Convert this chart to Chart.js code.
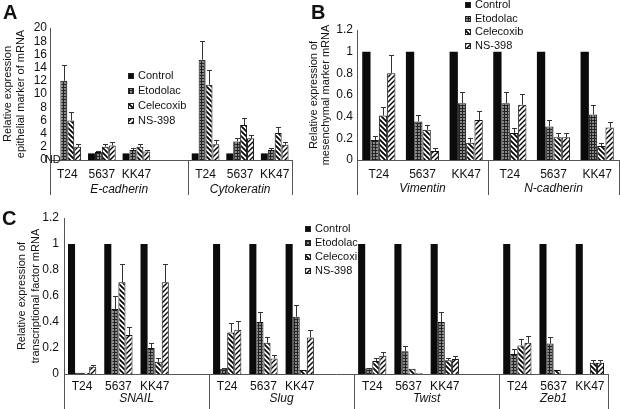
<!DOCTYPE html>
<html>
<head>
<meta charset="utf-8">
<script src="https://cdn.jsdelivr.net/npm/chart.js@4.4.1/dist/chart.umd.min.js"></script>
<style>
  body { margin: 0; background: #fff; }
  #wrap { position: relative; width: 620px; height: 409px; overflow: hidden; }
  canvas { position: absolute; }
  .tag { position: absolute; font: bold 20px "Liberation Sans", Arial, sans-serif; color: #111; }
</style>
</head>
<body>
<div id="wrap">
  <canvas id="chartA" width="300" height="205" style="left:0px;top:0px"></canvas>
  <canvas id="chartB" width="320" height="205" style="left:300px;top:0px"></canvas>
  <canvas id="chartC" width="620" height="204" style="left:0px;top:205px"></canvas>
  <div class="tag" style="left:3px;top:1px">A</div>
  <div class="tag" style="left:311px;top:1px">B</div>
  <div class="tag" style="left:2px;top:207px">C</div>
</div>
<script>
// DATA
const seriesNames = ['Control', 'Etodolac', 'Celecoxib', 'NS-398'];

// A - epithelial markers
const labelsA = ['T24', '5637', 'KK47', '', 'T24', '5637', 'KK47'];
const groupNamesA = ['E-cadherin', 'Cytokeratin'];
const groupSizesA = [4, 3];
const controlA   = [null, 1, 1, null, 1, 1, 1];   // T24 control = ND
const etodolacA  = [12, 1.2, 1.5, null, 15.2, 2.8, 1.5];
const celecoxibA = [6, 2, 2, null, 11.4, 5.3, 4.1];
const ns398A     = [2, 2.2, 1.3, null, 2.4, 3.3, 2.3];
const etodolacErrA  = [2.4, 0.15, 0.3, null, 2.9, 0.5, 0.3];
const celecoxibErrA = [1.2, 0.4, 0.4, null, 2.2, 1.1, 0.9];
const ns398ErrA     = [0.4, 0.6, 0.25, null, 0.7, 0.5, 0.5];

// B - mesenchymal markers
const labelsB = ['T24', '5637', 'KK47', 'T24', '5637', 'KK47'];
const groupNamesB = ['Vimentin', 'N-cadherin'];
const groupSizesB = [3, 3];
const controlB   = [1, 1, 1, 1, 1, 1];
const etodolacB  = [0.185, 0.355, 0.525, 0.525, 0.31, 0.42];
const celecoxibB = [0.41, 0.28, 0.16, 0.25, 0.21, 0.13];
const ns398B     = [0.8, 0.083, 0.37, 0.51, 0.21, 0.3];
const etodolacErrB  = [0.04, 0.065, 0.105, 0.105, 0.06, 0.09];
const celecoxibErrB = [0.08, 0.04, 0.04, 0.05, 0.04, 0.03];
const ns398ErrB     = [0.17, 0.027, 0.08, 0.1, 0.04, 0.055];

// C - transcriptional factors
const labelsC = ['T24', '5637', 'KK47', '', 'T24', '5637', 'KK47', '',
                 'T24', '5637', 'KK47', '', 'T24', '5637', 'KK47'];
const groupNamesC = ['SNAIL', 'Slug', 'Twist', 'Zeb1'];
const groupSizesC = [4, 4, 4, 3];
const controlC   = [1, 1, 1, null, 1, 1, 1, null, 1, 1, 1, null, 1, 1, 1];
const etodolacC  = [0.01, 0.5, 0.2, null, 0.04, 0.4, 0.44, null, 0.045, 0.175, 0.4, null, 0.153, 0.234, 0];
const celecoxibC = [0.01, 0.705, 0.094, null, 0.32, 0.24, 0.03, null, 0.1, 0.04, 0.105, null, 0.22, 0.03, 0.086];
const ns398C     = [0.056, 0.3, 0.705, null, 0.34, 0.12, 0.28, null, 0.14, 0.005, 0.115, null, 0.24, 0, 0.086];
const etodolacErrC  = [0, 0.1, 0.04, null, 0.005, 0.075, 0.09, null, 0.005, 0.04, 0.08, null, 0.037, 0.05, 0];
const celecoxibErrC = [0, 0.14, 0.026, null, 0.07, 0.045, 0, null, 0.02, 0, 0.02, null, 0.05, 0, 0.021];
const ns398ErrC     = [0.01, 0.06, 0.14, null, 0.07, 0.025, 0.055, null, 0.03, 0, 0.02, null, 0.05, 0, 0.021];

Chart.defaults.font.family = '"Liberation Sans", Arial, sans-serif';
Chart.defaults.color = '#111';

// PATTERNS
function hatch(kind) {
  const c = document.createElement('canvas');
  const g = c.getContext('2d');
  if (kind === 'grid') {
    c.width = c.height = 3;
    g.fillStyle = '#8a8a8a'; g.fillRect(0, 0, 3, 3);
    g.fillStyle = '#222'; g.fillRect(0, 0, 3, 1); g.fillRect(0, 0, 1, 3);
  } else {
    c.width = c.height = 5;
    g.fillStyle = '#fff'; g.fillRect(0, 0, 5, 5);
    g.strokeStyle = '#000'; g.lineWidth = kind === 'back' ? 1.7 : 1.4;
    g.beginPath();
    if (kind === 'back') {
      g.moveTo(-1, -1); g.lineTo(6, 6); g.moveTo(-1, 4); g.lineTo(1, 6); g.moveTo(4, -1); g.lineTo(6, 1);
    } else {
      g.moveTo(-1, 6); g.lineTo(6, -1); g.moveTo(-1, 1); g.lineTo(1, -1); g.moveTo(4, 6); g.lineTo(6, 4);
    }
    g.stroke();
  }
  return g.createPattern(c, 'repeat');
}
const fills = ['#0b0b0b', hatch('grid'), hatch('back'), hatch('fwd')];

// PLUGINS
const errorBars = {
  id: 'errorBars',
  afterDatasetsDraw(chart) {
    const ctx = chart.ctx, y = chart.scales.y;
    ctx.save();
    ctx.strokeStyle = '#333';
    ctx.lineWidth = 1;
    chart.data.datasets.forEach((ds, i) => {
      if (!ds.errors) return;
      chart.getDatasetMeta(i).data.forEach((bar, j) => {
        const v = ds.data[j], e = ds.errors[j];
        if (v == null || !e) return;
        const top = Math.round(y.getPixelForValue(v + e)) + 0.5;
        const x = Math.round(bar.x) + 0.5;
        ctx.beginPath();
        ctx.moveTo(x, bar.y); ctx.lineTo(x, top);
        ctx.moveTo(x - 2.5, top); ctx.lineTo(x + 2.5, top);
        ctx.stroke();
      });
    });
    ctx.restore();
  }
};

const groupAxis = {
  id: 'groupAxis',
  afterDraw(chart, args, o) {
    const ctx = chart.ctx, x = chart.scales.x;
    const n = chart.data.labels.length, w = (x.right - x.left) / n;
    const bottom = chart.chartArea.bottom;
    ctx.save();
    ctx.strokeStyle = '#555';
    ctx.lineWidth = 1;
    ctx.beginPath();
    let start = 0;
    const edges = [0];
    o.sizes.forEach(s => { start += s; edges.push(start); });
    edges.forEach(k => {
      const px = Math.round(x.left + k * w) + 0.5;
      ctx.moveTo(px, bottom); ctx.lineTo(px, bottom + o.lineLen);
    });
    ctx.stroke();
    ctx.font = 'italic 12px "Liberation Sans", Arial, sans-serif';
    ctx.fillStyle = '#111';
    ctx.textAlign = 'center';
    ctx.textBaseline = 'middle';
    o.names.forEach((name, g) => {
      ctx.fillText(name, x.left + (edges[g] + edges[g + 1]) / 2 * w, bottom + o.labelOffset);
    });
    ctx.restore();
  }
};

const boxLegend = {
  id: 'boxLegend',
  afterDraw(chart, args, o) {
    const ctx = chart.ctx;
    ctx.save();
    ctx.font = '11px "Liberation Sans", Arial, sans-serif';
    ctx.textBaseline = 'middle';
    chart.data.datasets.forEach((ds, i) => {
      const y = Math.round(o.y + i * o.gap);
      ctx.fillStyle = ds.backgroundColor;
      ctx.fillRect(o.x, y - 3, 6, 6);
      ctx.strokeStyle = '#222';
      ctx.strokeRect(o.x + 0.5, y - 2.5, 5, 5);
      ctx.fillStyle = '#111';
      ctx.fillText(ds.label, o.x + 10, y);
    });
    ctx.restore();
  }
};

const ndLabel = {
  id: 'ndLabel',
  afterDatasetsDraw(chart, args, o) {
    if (!o.indices) return;
    const ctx = chart.ctx, meta = chart.getDatasetMeta(0);
    ctx.save();
    ctx.font = '11px "Liberation Sans", Arial, sans-serif';
    ctx.fillStyle = '#111';
    ctx.textBaseline = 'middle';
    o.indices.forEach(j => {
      ctx.fillText('ND', meta.data[j].x - 12, chart.scales.y.getPixelForValue(0));
    });
    ctx.restore();
  }
};

function buildChart(id, cfg) {
  return new Chart(document.getElementById(id), {
    type: 'bar',
    data: {
      labels: cfg.labels,
      datasets: seriesNames.map((name, k) => ({
        label: name,
        data: cfg.values[k],
        errors: cfg.errors[k],
        backgroundColor: fills[k],
        borderColor: '#111',
        borderWidth: k === 0 ? 0 : 1,
        categoryPercentage: cfg.catPct,
        barPercentage: 1
      }))
    },
    options: {
      responsive: false,
      animation: false,
      layout: { padding: cfg.pad },
      plugins: {
        legend: { display: false },
        tooltip: { enabled: false },
        groupAxis: { names: cfg.groups, sizes: cfg.sizes, lineLen: cfg.lineLen, labelOffset: cfg.groupOffset },
        boxLegend: cfg.legend,
        ndLabel: { indices: cfg.nd }
      },
      scales: {
        x: {
          grid: { display: false, drawTicks: false },
          border: { color: '#555' },
          ticks: { font: { size: 12 }, padding: cfg.xPad, autoSkip: false, maxRotation: 0 },
          afterFit: s => { s.height = cfg.xHeight; }
        },
        y: {
          min: 0, max: cfg.max,
          grid: { display: false, drawTicks: false },
          border: { color: '#555' },
          ticks: {
            stepSize: cfg.step, autoSkip: false, font: { size: 12 }, padding: cfg.yPad,
            callback: v => String(Math.round(v * 10) / 10)
          },
          title: {
            display: true, text: cfg.title,
            font: { size: 11, lineHeight: cfg.titleLH },
            padding: { top: cfg.titlePad, bottom: 0 }
          },
          afterFit: s => { s.width = cfg.yWidth; }
        }
      }
    },
    plugins: [errorBars, groupAxis, boxLegend, ndLabel]
  });
}

buildChart('chartA', {
  labels: labelsA, groups: groupNamesA, sizes: groupSizesA,
  values: [controlA, etodolacA, celecoxibA, ns398A],
  errors: [null, etodolacErrA, celecoxibErrA, ns398ErrA],
  max: 20, step: 2, catPct: 0.8,
  title: ['Relative expression', 'epithelial marker of mRNA'], titleLH: 1.15, titlePad: 2,
  pad: { left: 0, top: 28, right: 8, bottom: 0 }, yWidth: 50, xHeight: 45, xPad: 7, yPad: 3,
  lineLen: 35, groupOffset: 30,
  legend: { x: 128, y: 76, gap: 15 },
  nd: [0]
});

buildChart('chartB', {
  labels: labelsB, groups: groupNamesB, sizes: groupSizesB,
  values: [controlB, etodolacB, celecoxibB, ns398B],
  errors: [null, etodolacErrB, celecoxibErrB, ns398ErrB],
  max: 1.2, step: 0.2, catPct: 0.76,
  title: ['Relative expression of', 'mesenchymal marker mRNA'], titleLH: 1.1, titlePad: 8,
  pad: { left: 0, top: 30, right: 1, bottom: 0 }, yWidth: 57, xHeight: 45, xPad: 7, yPad: 4,
  lineLen: 35, groupOffset: 29,
  legend: { x: 165, y: 5, gap: 13.7 }
});

buildChart('chartC', {
  labels: labelsC, groups: groupNamesC, sizes: groupSizesC,
  values: [controlC, etodolacC, celecoxibC, ns398C],
  errors: [null, etodolacErrC, celecoxibErrC, ns398ErrC],
  max: 1.2, step: 0.2, catPct: 0.78,
  title: ['Relative expression of', 'transcriptional factor mRNA'], titleLH: 1.25, titlePad: 15,
  pad: { left: 0, top: 13, right: 12, bottom: 0 }, yWidth: 64, xHeight: 35, xPad: 5, yPad: 5,
  lineLen: 35, groupOffset: 25,
  legend: { x: 305, y: 24, gap: 14 }
});
</script>
</body>
</html>
